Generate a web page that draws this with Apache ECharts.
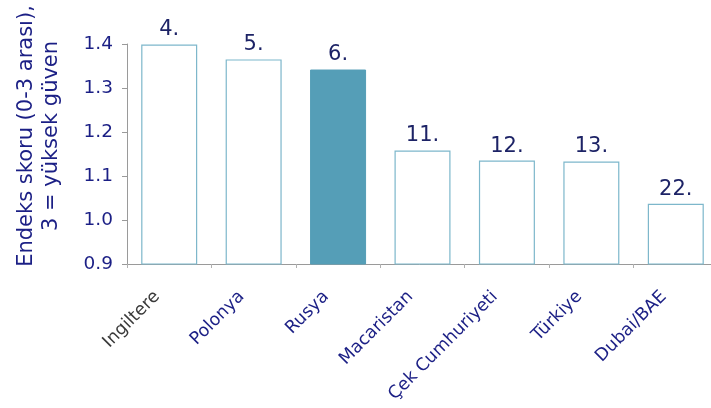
<!DOCTYPE html>
<html>
<head>
<meta charset="utf-8">
<script src="https://cdn.jsdelivr.net/npm/echarts@6/dist/echarts.min.js"></script>
<style>
  html, body { margin: 0; padding: 0; background: #fff; }
  #chart { width: 711px; height: 408px; }
</style>
</head>
<body>
<div id="chart"></div>
<script>
// Countries, index scores and ranking labels
const categories = ['Ingiltere', 'Polonya', 'Rusya', 'Macaristan', 'Çek Cumhuriyeti', 'Türkiye', 'Dubai/BAE'];
const scores = [1.399, 1.365, 1.342, 1.158, 1.135, 1.133, 1.037];
const ranks = ['4.', '5.', '6.', '11.', '12.', '13.', '22.'];
const highlight = 'Rusya';
const yTitle = 'Endeks skoru (0-3 arası),\n3 = yüksek güven';

const navy = '#1b1f85';
const font = 'DejaVu Sans, Verdana, sans-serif';

const chart = echarts.init(document.getElementById('chart'));
chart.setOption({
  animation: false,
  grid: { left: 127, top: 44, width: 591, height: 220, containLabel: false, outerBoundsMode: 'none' },
  graphic: [{
    type: 'text',
    x: 39,
    y: 136,
    rotation: Math.PI / 2,
    style: {
      text: yTitle,
      fontFamily: font,
      fontSize: 21,
      lineHeight: 25,
      fill: navy,
      align: 'center',
      verticalAlign: 'middle'
    }
  }],
  xAxis: {
    type: 'category',
    data: categories,
    axisLine: { lineStyle: { color: '#9a9a9a', width: 1 } },
    axisTick: { show: true, length: 4, lineStyle: { color: '#b0b0b0' } },
    axisLabel: {
      rotate: 45,
      interval: 0,
      margin: 18,
      padding: [0, 17, 0, 0],
      fontFamily: font,
      fontSize: 17.5,
      color: (v) => v === 'Ingiltere' ? '#3a3a3a' : navy
    }
  },
  yAxis: {
    type: 'value',
    min: 0.9,
    max: 1.4,
    interval: 0.1,
    axisLine: { show: true, lineStyle: { color: '#9a9a9a' } },
    axisTick: { show: true, length: 5, lineStyle: { color: '#9a9a9a' } },
    splitLine: { show: false },
    axisLabel: {
      margin: 14,
      fontFamily: font,
      fontSize: 18.5,
      color: navy,
      formatter: (v) => v.toFixed(1)
    }
  },
  series: [{
    type: 'bar',
    barWidth: 56,
    data: scores.map((s, i) => {
      const hi = categories[i] === highlight;
      return {
        value: s,
        itemStyle: hi
          ? { color: '#559eb7', borderColor: '#559eb7', borderWidth: 1 }
          : { color: '#ffffff', borderColor: '#7db7cb', borderWidth: 1.2 }
      };
    }),
    label: {
      show: true,
      position: 'top',
      distance: 4,
      fontFamily: font,
      fontSize: 21,
      color: '#1d2366',
      formatter: (p) => ranks[p.dataIndex]
    }
  }]
});
</script>
</body>
</html>
